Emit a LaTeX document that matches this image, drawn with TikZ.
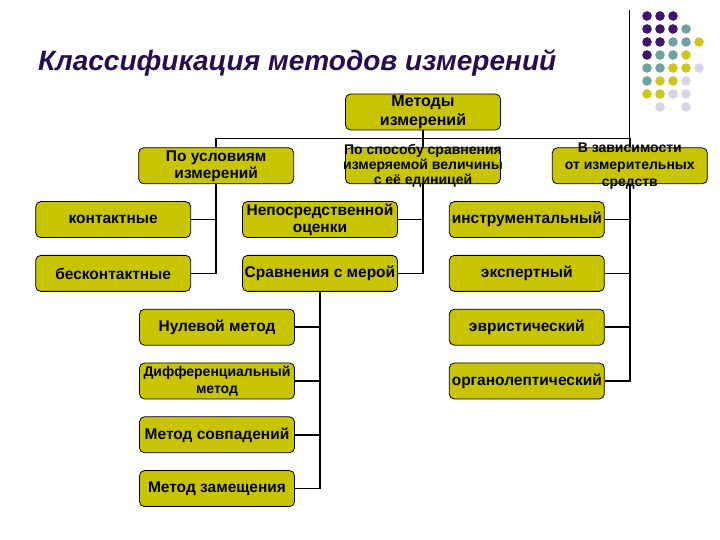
\documentclass[tikz,border=0pt]{standalone}
\usepackage{fontspec}
\setmainfont{Liberation Sans}
\usepackage{tikz}
\usetikzlibrary{positioning}
\definecolor{boxfill}{RGB}{200,196,0}
\definecolor{titlepurple}{RGB}{40,12,80}
\definecolor{dotpurple}{RGB}{62,22,110}
\definecolor{dotteal}{RGB}{112,160,160}
\definecolor{dotyellow}{RGB}{204,200,30}
\definecolor{dotlilac}{RGB}{214,214,232}

\begin{document}
\begin{tikzpicture}[x=1pt, y=1pt,
  node distance=17pt and 51pt,
  box/.style={draw=black, line width=0.8pt, rounded corners=5pt, fill=boxfill,
              minimum width=155pt, minimum height=36pt, inner sep=0.5pt,
              align=center, font=\fontsize{15.5}{17}\selectfont\bfseries},
  boxtext/.style={align=center, inner sep=0pt, font=\fontsize{14}{15}\selectfont\bfseries},
  wire/.style={line width=1.6pt, black},
  title/.style={font=\fontsize{28}{30}\selectfont\bfseries\itshape, text=titlepurple, inner sep=0pt},
  dotp/.style={fill=dotpurple}, dott/.style={fill=dotteal},
  doty/.style={fill=dotyellow}, dotl/.style={fill=dotlilac},
  dotn/.style={fill=none}
]
\useasboundingbox (0,0) rectangle (720,540);

% title and slide decoration
\node[title, anchor=base west] (title) at (38,469) {Классификация методов измерений};
\foreach \r/\list in {0/{p,p,p}, 1/{p,p,p,t}, 2/{p,p,t,t,y}, 3/{p,t,t,y},
                      4/{t,t,y,y,l}, 5/{t,y,y,l}, 6/{y,y,l,l}, 7/{n,l,n,l}}
  \foreach \k [count=\i from 0] in \list
    \fill[dot\k] (647+13*\i, 524-13*\r) circle (4.8pt);

% tree
\node[box, font=\fontsize{16}{19}\selectfont\bfseries] (root) at (423,428) {Методы\\измерений};
\node[box, below=of root] (cmp) {};
\node[boxtext] (cmptext) at (cmp) {По способу сравнения\\измеряемой величины\\с её единицей};
\node[box, left=of cmp]  (cond) {По условиям\\измерений};
\node[box, right=of cmp] (dep) {};
\node[boxtext, font=\fontsize{14}{17}\selectfont\bfseries] (deptext) at (dep) {В зависимости\\от измерительных\\средств};

\node[box, below=of cmp, xshift=-103pt] (direct) {Непосредственной\\оценки};
\node[box, left=of direct]  (contact) {контактные};
\node[box, right=of direct] (instr) {инструментальный};
\node[box, below=of contact] (noncontact) {бесконтактные};
\node[box, below=of direct]  (compare) {Сравнения с мерой};
\node[box, below=of instr]   (expert) {экспертный};
\node[box, below=of expert]  (heur) {эвристический};
\node[box, below=of heur]    (organo) {органолептический};

\node[box, below=of compare, xshift=-103pt] (zero) {Нулевой метод};
\node[box, below=of zero, font=\fontsize{14}{17}\selectfont\bfseries]  (diff) {Дифференциальный\\метод};
\node[box, below=of diff]  (coinc) {Метод совпадений};
\node[box, below=of coinc] (subst) {Метод замещения};

\path (root.south) ++(0,-8pt) coordinate (bus);
\draw[line width=0.8pt] (dep.north |- 0,530) -- (bus -| dep.north);
\draw[wire] (root.south) -- (cmp.north);
\draw[wire] (cond.north) |- (bus) -| (dep.north);

\draw[wire] (cond.south) |- (noncontact.east);
\draw[wire] (contact.east) -- (contact.east -| cond.south);
\draw[wire] (cmp.south) |- (compare.east);
\draw[wire] (direct.east) -- (direct.east -| cmp.south);
\draw[wire] (compare.south) |- (subst.east);
\draw[wire] (zero.east) -- (zero.east -| compare.south);
\draw[wire] (diff.east) -- (diff.east -| compare.south);
\draw[wire] (coinc.east) -- (coinc.east -| compare.south);
\draw[wire] (dep.south) |- (organo.east);
\draw[wire] (instr.east) -- (instr.east -| dep.south);
\draw[wire] (expert.east) -- (expert.east -| dep.south);
\draw[wire] (heur.east) -- (heur.east -| dep.south);

\end{tikzpicture}
\end{document}
